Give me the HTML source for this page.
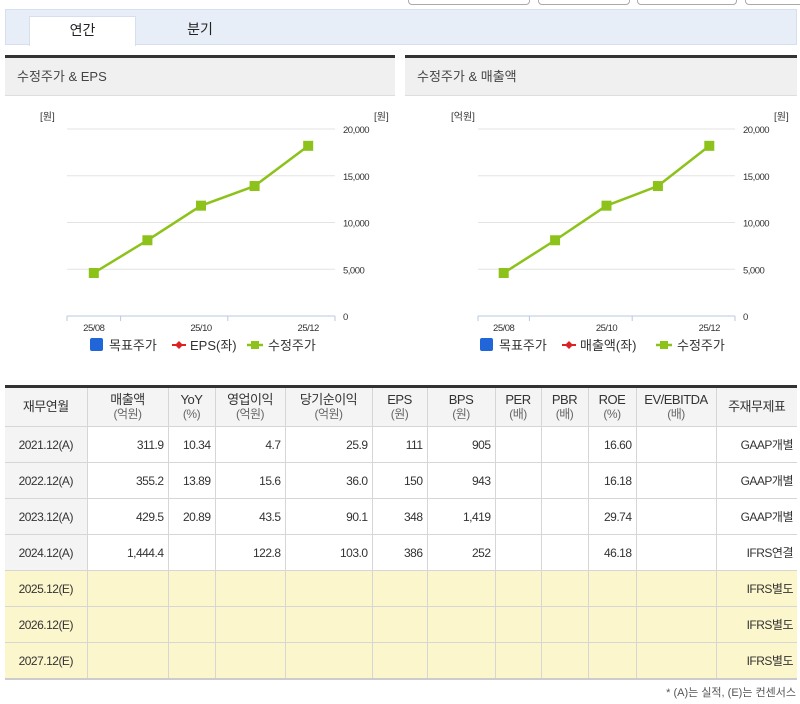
<!DOCTYPE html>
<html><head><meta charset="utf-8"><style>
body{margin:0;width:800px;height:704px;background:#fff;font-family:"Liberation Sans","Noto Sans CJK KR",sans-serif;color:#333;position:relative;overflow:hidden}
.abs{position:absolute}
.btn{position:absolute;top:-6px;height:9px;border:1px solid #aaa;border-radius:4px;background:#fff}
table{position:absolute;left:5px;top:385px;width:792px;border-collapse:collapse;border-top:3px solid #333;border-bottom:2px solid #ccc;font-size:12px;table-layout:fixed}
td,th{border:1px solid #d6d6d6;height:35px;padding:0 4px;font-weight:normal;letter-spacing:-0.5px}
th{height:38px;background:#f4f4f4;line-height:14px;font-size:13px}
th small{color:#666;font-size:12px}
td{text-align:right}
td:first-child{text-align:center;background:#f4f4f4}
td:last-child{text-align:right}
tr.e td{background:#fcf6cc}
tr.e td:first-child{background:#fcf6cc}
td:first-child,th:first-child{border-left:none}td:last-child,th:last-child{border-right:none}
</style></head><body>
<div class="btn" style="left:408px;width:120px"></div>
<div class="btn" style="left:538px;width:90px"></div>
<div class="btn" style="left:637px;width:98px"></div>
<div class="btn" style="left:745px;width:60px"></div>
<div class="abs" style="left:5px;top:9px;width:790px;height:34px;background:#e8eef8;border:1px solid #d5dfee"></div>
<div class="abs" style="left:29px;top:16px;width:105px;height:29px;background:#fff;border:1px solid #d5dfee;border-bottom:none;text-align:center;line-height:27px;font-size:14px;color:#222">연간</div>
<div class="abs" style="left:150px;top:16px;width:100px;height:28px;text-align:center;line-height:27px;font-size:14px;color:#222">분기</div>

<div class="abs" style="left:5px;top:55px;width:390px;height:37px;background:#f0f0f0;border-top:3px solid #333;border-bottom:1px solid #ddd;font-size:13px;line-height:37px;text-indent:12px;color:#444">수정주가 &amp; EPS</div>
<div class="abs" style="left:405px;top:55px;width:392px;height:37px;background:#f0f0f0;border-top:3px solid #333;border-bottom:1px solid #ddd;font-size:13px;line-height:37px;text-indent:12px;color:#444">수정주가 &amp; 매출액</div>

<svg class="abs" style="left:0;top:0" width="800" height="380" id="charts"></svg>

<table>
<colgroup><col style="width:82px"><col style="width:81px"><col style="width:47px"><col style="width:70px"><col style="width:87px"><col style="width:55px"><col style="width:68px"><col style="width:46px"><col style="width:47px"><col style="width:48px"><col style="width:80px"><col style="width:81px"></colgroup>
<tr><th>재무연월</th><th>매출액<br><small>(억원)</small></th><th>YoY<br><small>(%)</small></th><th>영업이익<br><small>(억원)</small></th><th>당기순이익<br><small>(억원)</small></th><th>EPS<br><small>(원)</small></th><th>BPS<br><small>(원)</small></th><th>PER<br><small>(배)</small></th><th>PBR<br><small>(배)</small></th><th>ROE<br><small>(%)</small></th><th>EV/EBITDA<br><small>(배)</small></th><th>주재무제표</th></tr>
<tr><td>2021.12(A)</td><td>311.9</td><td>10.34</td><td>4.7</td><td>25.9</td><td>111</td><td>905</td><td></td><td></td><td>16.60</td><td></td><td>GAAP개별</td></tr>
<tr><td>2022.12(A)</td><td>355.2</td><td>13.89</td><td>15.6</td><td>36.0</td><td>150</td><td>943</td><td></td><td></td><td>16.18</td><td></td><td>GAAP개별</td></tr>
<tr><td>2023.12(A)</td><td>429.5</td><td>20.89</td><td>43.5</td><td>90.1</td><td>348</td><td>1,419</td><td></td><td></td><td>29.74</td><td></td><td>GAAP개별</td></tr>
<tr><td>2024.12(A)</td><td>1,444.4</td><td></td><td>122.8</td><td>103.0</td><td>386</td><td>252</td><td></td><td></td><td>46.18</td><td></td><td>IFRS연결</td></tr>
<tr class="e"><td>2025.12(E)</td><td></td><td></td><td></td><td></td><td></td><td></td><td></td><td></td><td></td><td></td><td>IFRS별도</td></tr>
<tr class="e"><td>2026.12(E)</td><td></td><td></td><td></td><td></td><td></td><td></td><td></td><td></td><td></td><td></td><td>IFRS별도</td></tr>
<tr class="e"><td>2027.12(E)</td><td></td><td></td><td></td><td></td><td></td><td></td><td></td><td></td><td></td><td></td><td>IFRS별도</td></tr>
</table>
<div class="abs" style="right:4px;top:684px;font-size:11px;color:#555">* (A)는 실적, (E)는 컨센서스</div>

<script>
const months=["25/08","25/09","25/10","25/11","25/12"];
const tickMonths=["25/08","25/10","25/12"];
const priceValues=[4600,8100,11800,13900,18200];
const yTicks=[0,5000,10000,15000,20000];
const yTickLabels=["0","5,000","10,000","15,000","20,000"];
const NS="http://www.w3.org/2000/svg";
const svg=document.getElementById('charts');
function mk(tag,attrs,txt){const e=document.createElementNS(NS,tag);for(const k in attrs)e.setAttribute(k,attrs[k]);if(txt!==undefined)e.textContent=txt;svg.appendChild(e);return e;}
function drawChart(p,leftUnit,seriesName,prefix){
  const x0=p.x0,x1=p.x1,yTop=129,yBot=316,ymax=20000;
  const step=(x1-x0)/months.length;
  const xs=i=>x0+step*(i+0.5);
  const ys=v=>yBot-(v/ymax)*(yBot-yTop);
  let t=mk('text',{x:p.x0-27,y:120,'font-size':10,fill:'#333'},leftUnit);
  
  
  t=mk('text',{x:x1+39,y:120,'font-size':10,fill:'#333'},'[원]');
  
  
  yTicks.forEach((v,i)=>{
    if(v>0){const g=mk('line',{x1:x0,x2:x1,y1:ys(v),y2:ys(v),stroke:'#e3e3e3'});
    
    }
    const l=mk('text',{x:x1+8,y:ys(v)+4,'font-size':9.5,fill:'#333','letter-spacing':'-0.5'},yTickLabels[i]);
    
    
  });
  const ax=mk('line',{x1:x0,x2:x1,y1:yBot,y2:yBot,stroke:'#b8c8e0'});
  
  
  [0,1,3,5].forEach(k=>{const tk=mk('line',{x1:x0+step*k,x2:x0+step*k,y1:yBot,y2:yBot+5,stroke:'#b8c8e0'});
    
    });
  tickMonths.forEach(m=>{const i=months.indexOf(m);
    const l=mk('text',{x:xs(i),y:yBot+15,'font-size':9.5,'text-anchor':'middle',fill:'#333','letter-spacing':'-0.5'},m);
    
    });
  const pts=priceValues.map((v,i)=>xs(i)+','+ys(v)).join(' ');
  const pl=mk('polyline',{points:pts,fill:'none',stroke:'#8cc21a','stroke-width':2.5});
  
  
  priceValues.forEach((v,i)=>{const r=mk('rect',{x:xs(i)-5,y:ys(v)-5,width:10,height:10,fill:'#8cc21a'});
    
    });
  const lx=p.lx,ly=345;
  let e=mk('rect',{x:lx,y:ly-7,width:13,height:13,rx:2,fill:'#2166d8'});
  
  
  mk('text',{x:lx+19,y:ly+5,'font-size':13,fill:'#333'},'목표주가');
  e=mk('line',{x1:lx+82,x2:lx+96,y1:ly,y2:ly,stroke:'#d22','stroke-width':2});
  
  
  mk('path',{d:`M${lx+89} ${ly-4}L${lx+93} ${ly}L${lx+89} ${ly+4}L${lx+85} ${ly}Z`,fill:'#d22'});
  mk('text',{x:lx+100,y:ly+5,'font-size':13,fill:'#333'},seriesName);
  const gx=lx+p.gOff;
  e=mk('line',{x1:gx,x2:gx+16,y1:ly,y2:ly,stroke:'#8cc21a','stroke-width':2.5});
  
  
  mk('rect',{x:gx+4,y:ly-4,width:8,height:8,fill:'#8cc21a'});
  mk('text',{x:gx+21,y:ly+5,'font-size':13,fill:'#333'},'수정주가');
}
drawChart({x0:67,x1:335,lx:90,gOff:157},'[원]','EPS(좌)','eps');
drawChart({x0:478,x1:735,lx:480,gOff:176},'[억원]','매출액(좌)','sales');
</script>
</body></html>
